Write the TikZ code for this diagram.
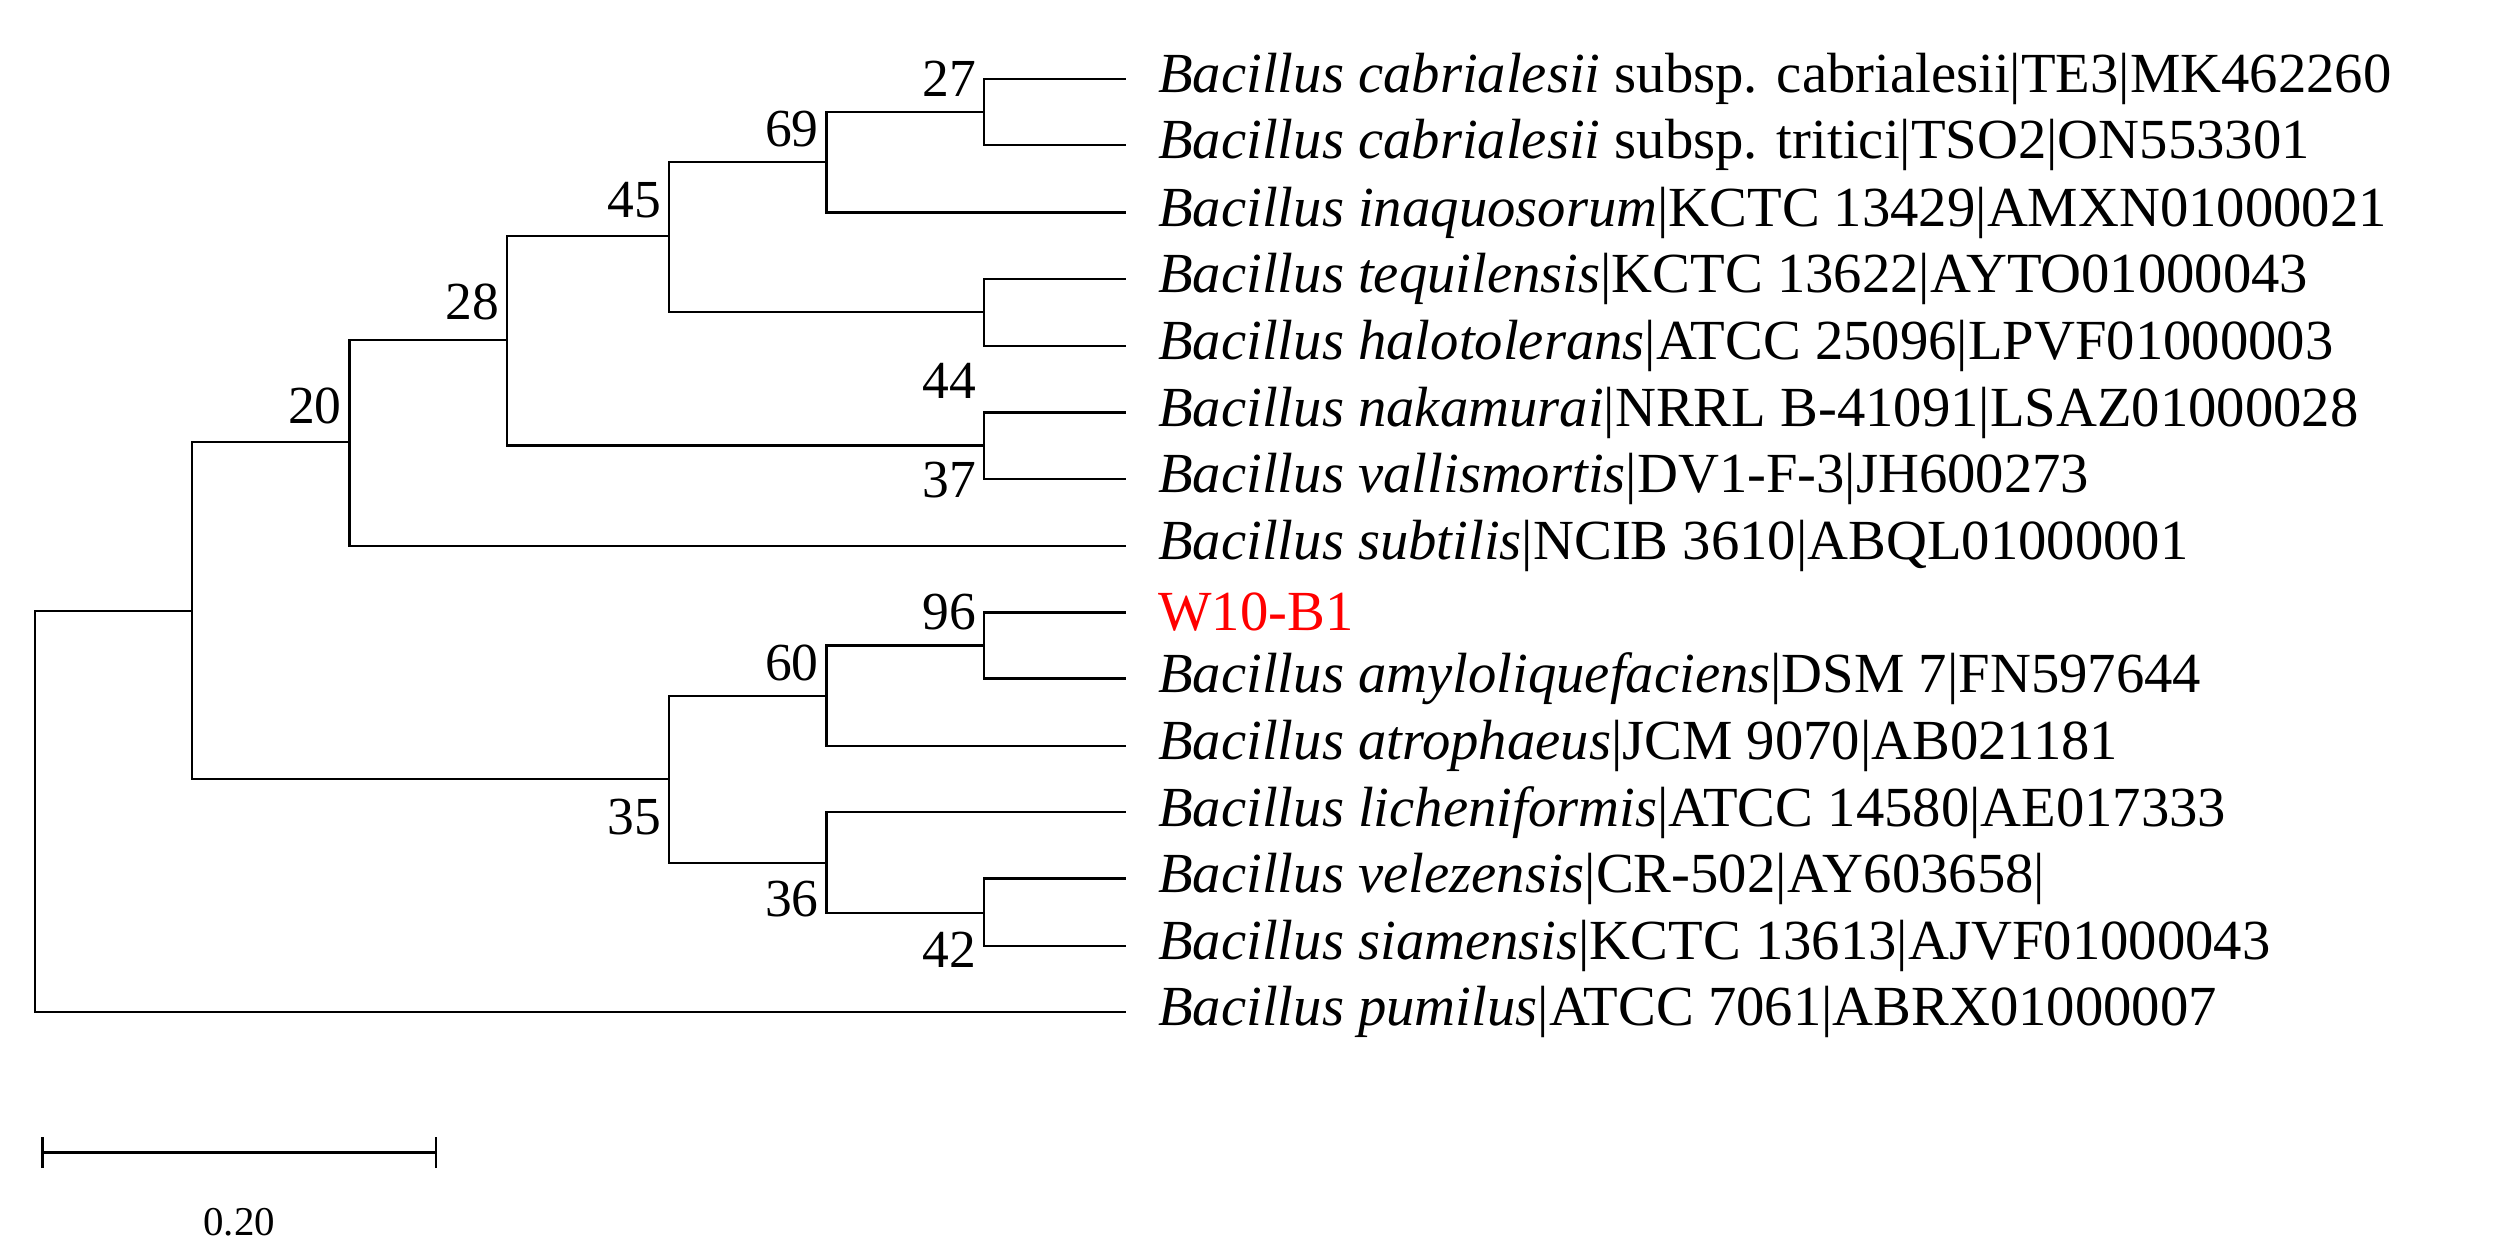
\documentclass[tikz,border=0pt]{standalone}
\usepackage{fontspec}
\setmainfont{Liberation Serif}
\begin{document}
\begin{tikzpicture}[x=1pt,y=-1pt,line width=1.4pt,
  lf/.style={anchor=west,inner sep=0pt,font=\fontsize{36}{38}\selectfont},
  bs/.style={inner sep=0pt,font=\fontsize{34}{36}\selectfont},
  pt/.style={inner sep=0pt,minimum size=0pt}]
\useasboundingbox (0,0) rectangle (1600,799);
\def\LX{735}
\foreach \n/\y in {1/50,2/92,3/135,4/177,5/220,6/262,7/304,8/347,9/389,10/431,11/474,12/516,13/558,14/601,15/643}{
  \coordinate (e\n) at (715,\y);}
\node[lf] (t1) at (\LX,50) {\textit{Bacillus cabrialesii} subsp. cabrialesii|TE3|MK462260};
\node[lf] (t2) at (\LX,92) {\textit{Bacillus cabrialesii} subsp. tritici|TSO2|ON553301};
\node[lf] (t3) at (\LX,135) {\textit{Bacillus inaquosorum}|KCTC 13429|AMXN01000021};
\node[lf] (t4) at (\LX,177) {\textit{Bacillus tequilensis}|KCTC 13622|AYTO01000043};
\node[lf] (t5) at (\LX,220) {\textit{Bacillus halotolerans}|ATCC 25096|LPVF01000003};
\node[lf] (t6) at (\LX,262) {\textit{Bacillus nakamurai}|NRRL B-41091|LSAZ01000028};
\node[lf] (t7) at (\LX,304) {\textit{Bacillus vallismortis}|DV1-F-3|JH600273};
\node[lf] (t8) at (\LX,347) {\textit{Bacillus subtilis}|NCIB 3610|ABQL01000001};
\node[lf,text=red] (t9) at (\LX,389) {W10-B1};
\node[lf] (t10) at (\LX,431) {\textit{Bacillus amyloliquefaciens}|DSM 7|FN597644};
\node[lf] (t11) at (\LX,474) {\textit{Bacillus atrophaeus}|JCM 9070|AB021181};
\node[lf] (t12) at (\LX,516) {\textit{Bacillus licheniformis}|ATCC 14580|AE017333};
\node[lf] (t13) at (\LX,558) {\textit{Bacillus velezensis}|CR-502|AY603658|};
\node[lf] (t14) at (\LX,601) {\textit{Bacillus siamensis}|KCTC 13613|AJVF01000043};
\node[lf] (t15) at (\LX,643) {\textit{Bacillus pumilus}|ATCC 7061|ABRX01000007};
% internal nodes
\coordinate (n27) at (625,71);
\coordinate (n69) at (525,103);
\coordinate (n44) at (625,198);
\coordinate (n45) at (425,150);
\coordinate (n37) at (625,283);
\coordinate (n28) at (322,216);
\coordinate (n20) at (222,281);
\coordinate (n96) at (625,410);
\coordinate (n60) at (525,442);
\coordinate (n42) at (625,580);
\coordinate (n36) at (525,548);
\coordinate (n35) at (425,495);
\coordinate (n12) at (122,388);
\coordinate (rt) at (22,515);
% edges
\draw (e1) -| (n27) |- (e2);
\draw (n27) -| (n69) |- (e3);
\draw (e4) -| (n44) |- (e5);
\draw (n69) -| (n45) |- (n44);
\draw (e6) -| (n37) |- (e7);
\draw (n45) -| (n28) |- (n37);
\draw (n28) -| (n20) |- (e8);
\draw (e9) -| (n96) |- (e10);
\draw (n96) -| (n60) |- (e11);
\draw (e13) -| (n42) |- (e14);
\draw (e12) -| (n36) |- (n42);
\draw (n60) -| (n35) |- (n36);
\draw (n20) -| (n12) |- (n35);
\draw (n12) -| (rt) |- (e15);
% bootstrap
\node[bs] (b27) at (603,50) {27};
\node[bs] (b69) at (503,82) {69};
\node[bs] (b45) at (403,127) {45};
\node[bs] (b44) at (603,242) {44};
\node[bs] (b37) at (603,305) {37};
\node[bs] (b28) at (300,192) {28};
\node[bs] (b20) at (200,258) {20};
\node[bs] (b96) at (603,389) {96};
\node[bs] (b60) at (503,421) {60};
\node[bs] (b35) at (403,519) {35};
\node[bs] (b36) at (503,571) {36};
\node[bs] (b42) at (603,603) {42};
% scale bar
\coordinate (s1) at (27,732);
\coordinate (s2) at (277,732);
\draw (s1) -- (s2);
\draw ([yshift=-10pt]s1) -- ([yshift=10pt]s1);
\draw ([yshift=-10pt]s2) -- ([yshift=10pt]s2);
\node[inner sep=0pt,font=\fontsize{26}{28}\selectfont] (sl) at (152,776) {0.20};
\end{tikzpicture}
\end{document}
